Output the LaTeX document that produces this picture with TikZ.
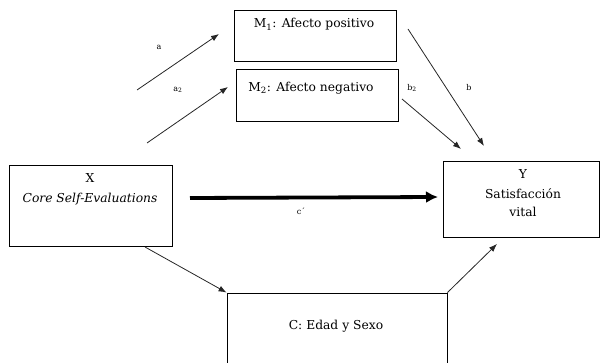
\documentclass[tikz,border=0pt]{standalone}
\usepackage{fontspec}
\setmainfont{DejaVu Serif}
\usetikzlibrary{arrows.meta}
\begin{document}
\begin{tikzpicture}[x=1pt,y=-1pt,
  box/.style={draw, line width=0.9pt, rectangle, inner sep=0pt},
  txt/.style={anchor=base, inner sep=0pt, font=\fontsize{12.3}{14}\selectfont},
  lbl/.style={inner sep=0pt, font=\fontsize{8}{9}\selectfont},
  arr/.style={-{Latex[length=8pt,width=6pt]}, line width=0.8pt, draw=black!85},
  bigarr/.style={-{Latex[length=12pt,width=12pt]}, line width=3.8pt, draw=black}
]
\useasboundingbox (0,0) rectangle (600,363);

% boxes
\node[box, minimum width=162pt, minimum height=51pt] (m1) at (315,35.5) {};
\node[box, minimum width=162pt, minimum height=52pt] (m2) at (317,95) {};
\node[box, minimum width=163pt, minimum height=81pt] (x) at (90.5,205.5) {};
\node[box, minimum width=156pt, minimum height=76pt] (y) at (521,199) {};
\node[box, minimum width=220pt, minimum height=73pt] (c) at (337,329.5) {};

% texts
\node[txt] (m1t) at (314,28) {M\textsubscript{1}: Afecto positivo};
\node[txt] (m2t) at (311,91.5) {M\textsubscript{2}: Afecto negativo};
\node[txt] (xt1) at (90,183) {X};
\node[txt] (xt2) at (90,203) {\itshape Core Self-Evaluations};
\node[txt] (yt1) at (523,179) {Y};
\node[txt] (yt2) at (523,199) {Satisfacción};
\node[txt] (yt3) at (523,217) {vital};
\node[txt] (ct) at (336,330) {C: Edad y Sexo};

% path labels
\node[lbl] (la) at (159,47) {a};
\node[lbl] (la2) at (178,90) {a\textsubscript{2}};
\node[lbl] (lb) at (469,88) {b};
\node[lbl] (lb2) at (412,88) {b\textsubscript{2}};
\node[lbl] (lc) at (301,211) {c´};

% connector end points
\coordinate (a1s) at (137,90);
\coordinate (a1e) at (219,34);
\coordinate (a2s) at (147,143);
\coordinate (a2e) at (228,87);
\coordinate (b1s) at (408,29);
\coordinate (b1e) at (484,146);
\coordinate (b2s) at (402,99);
\coordinate (b2e) at (461,149);
\coordinate (cs) at (190,198);
\coordinate (ce) at (438,197);
\coordinate (xcs) at (145,247);
\coordinate (cye) at (497,244);

% connectors
\draw[arr] (a1s) -- (a1e);
\draw[arr] (a2s) -- (a2e);
\draw[arr] (b1s) -- (b1e);
\draw[arr] (b2s) -- (b2e);
\draw[bigarr] (cs) -- (ce);
\draw[arr] (xcs) -- (c.north west);
\draw[arr] (c.north east) -- (cye);
\end{tikzpicture}
\end{document}
